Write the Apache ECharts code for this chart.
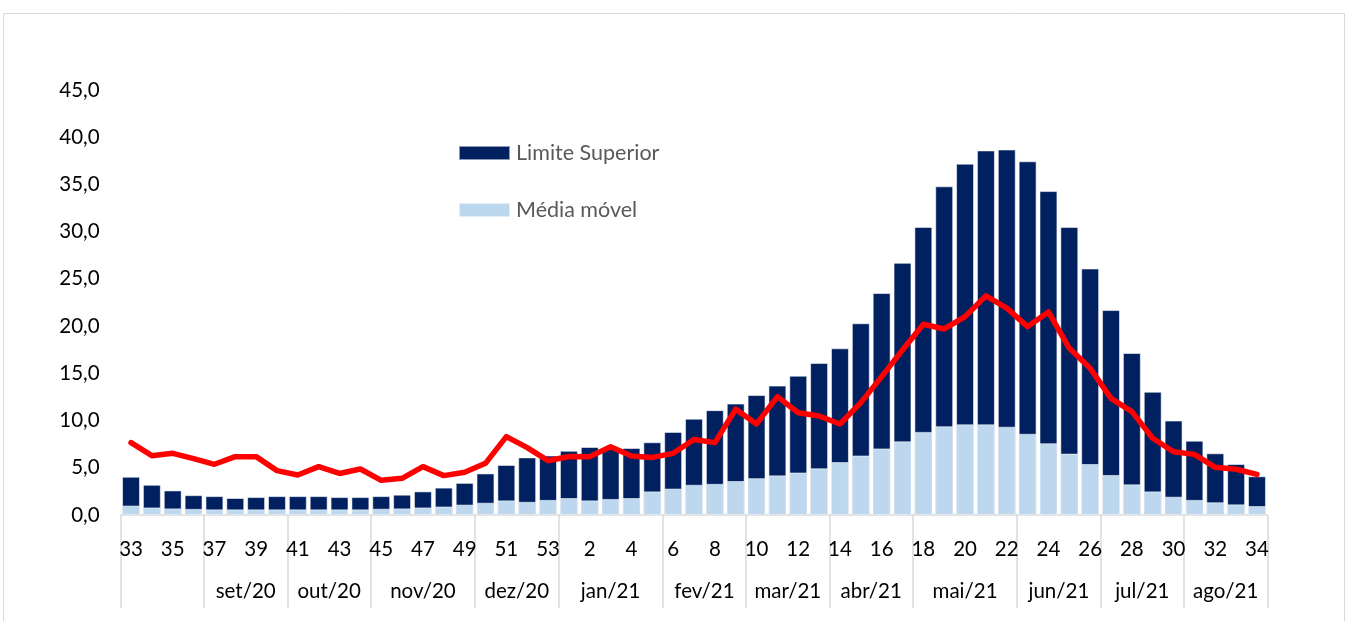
<!DOCTYPE html>
<html>
<head>
<meta charset="utf-8">
<script src="https://cdn.jsdelivr.net/npm/echarts@6/dist/echarts.min.js"></script>
<style>
html,body{margin:0;padding:0;background:#fff;}
#chart{width:1349px;height:621px;}
</style>
</head>
<body>
<div id="chart"></div>
<script>
const weeks = ['33','34','35','36','37','38','39','40','41','42','43','44','45','46','47','48','49','50','51','52','53',
  '1','2','3','4','5','6','7','8','9','10','11','12','13','14','15','16','17','18','19','20','21','22','23','24','25','26','27','28','29','30','31','32','33','34'];
const limiteSuperior = [4.05,3.2,2.6,2.1,2.0,1.8,1.9,2.0,2.0,2.0,1.9,1.9,2.0,2.15,2.5,2.9,3.4,4.4,5.3,6.1,6.3,
  6.8,7.2,7.15,7.1,7.7,8.8,10.2,11.1,11.8,12.7,13.7,14.75,16.1,17.65,20.3,23.5,26.7,30.5,34.8,37.2,38.6,38.7,37.45,34.3,30.5,26.1,21.7,17.15,13.05,10.0,7.87,6.53,5.4,4.1];
const mediaMovel = [1.0,0.8,0.7,0.65,0.6,0.6,0.6,0.6,0.6,0.6,0.6,0.6,0.67,0.7,0.8,0.9,1.1,1.3,1.55,1.4,1.6,
  1.8,1.55,1.7,1.8,2.5,2.8,3.2,3.3,3.6,3.9,4.2,4.5,4.95,5.6,6.3,7.05,7.8,8.8,9.4,9.6,9.6,9.35,8.6,7.6,6.5,5.4,4.24,3.25,2.5,1.94,1.6,1.35,1.13,0.95];
const linhaVermelha = [7.66,6.28,6.53,5.97,5.37,6.18,6.18,4.7,4.24,5.12,4.4,4.87,3.67,3.88,5.12,4.17,4.52,5.47,8.3,7.13,5.75,
  6.2,6.18,7.23,6.25,6.1,6.53,8.0,7.66,11.2,9.64,12.53,10.83,10.48,9.64,11.9,14.65,17.47,20.2,19.7,21.0,23.2,21.9,19.95,21.5,17.65,15.53,12.35,10.94,8.12,6.7,6.42,5.05,4.84,4.3];
// month groups: start index (band boundary) and label
const monthStarts = [0,4,8,12,17,21,26,30,34,38,43,47,51];
const monthLabels = ['','set/20','out/20','nov/20','dez/20','jan/21','fev/21','mar/21','abr/21','mai/21','jun/21','jul/21','ago/21'];
const yTicks = {min:0, max:45, interval:5};

const FONT = 'Lato';
const monthCenters = {};
monthStarts.forEach((s,i)=>{
  const e = i+1 < monthStarts.length ? monthStarts[i+1] : weeks.length;
  monthCenters[((s+e)/2).toFixed(1)] = monthLabels[i];
});

const chart = echarts.init(document.getElementById('chart'), null, {renderer:'canvas'});
chart.setOption({
  animation:false,
  backgroundColor:'#fff',
  textStyle:{fontFamily:FONT},
  graphic:[{type:'rect', shape:{x:3.5,y:13.5,width:1341,height:640}, style:{fill:'none', stroke:'#d9d9d9', lineWidth:1}, silent:true}],
  legend:{
    orient:'vertical', left:453, top:137,
    itemWidth:51, itemHeight:14, itemGap:35,
    data:['Limite Superior','Média móvel'],
    textStyle:{color:'#595959', fontSize:21.5, fontFamily:FONT, padding:[0,0,0,1]},
    icon:'rect'
  },
  grid:{left:120.6, right:1349-1267.4, top:90, bottom:621-515, containLabel:false},
  xAxis:[{
    type:'category', data:weeks, boundaryGap:true,
    axisLine:{show:true, lineStyle:{color:'#d9d9d9', width:1.5}},
    axisTick:{show:true, length:93, lineStyle:{color:'#d9d9d9', width:1.5},
      interval:(i)=>monthStarts.indexOf(i) >= 0},
    axisLabel:{interval:1, color:'#000', fontSize:20.5, fontFamily:FONT, margin:24}
  },{
    type:'value', min:0, max:weeks.length, interval:0.5, position:'bottom',
    axisLine:{show:false}, axisTick:{show:false}, splitLine:{show:false},
    axisLabel:{color:'#000', fontSize:20.5, fontFamily:FONT, margin:66, showMinLabel:true, showMaxLabel:true,
      formatter:(v)=>monthCenters[v.toFixed(1)] || ''}
  }],
  yAxis:{
    type:'value', min:yTicks.min, max:yTicks.max, interval:yTicks.interval,
    axisLine:{show:false}, axisTick:{show:false}, splitLine:{show:false},
    axisLabel:{color:'#000', fontSize:20.5, fontFamily:FONT, margin:21,
      formatter:(v)=>v.toFixed(1).replace('.',',')}
  },
  series:[
    {name:'Limite Superior', type:'bar', data:limiteSuperior, xAxisIndex:0, barWidth:'86%', barGap:'-100%',
      itemStyle:{color:'#002060', borderColor:'rgba(255,255,255,0.55)', borderWidth:1}},
    {name:'Média móvel', type:'bar', data:mediaMovel, xAxisIndex:0, barWidth:'86%', barGap:'-100%',
      itemStyle:{color:'#BDD7EE', borderColor:'rgba(255,255,255,0.55)', borderWidth:1}},
    {name:'Incidência', type:'line', data:linhaVermelha, xAxisIndex:0, symbol:'none', z:5,
      lineStyle:{color:'#FF0000', width:5.5, join:'round', cap:'round'}}
  ]
});
</script>
</body>
</html>
